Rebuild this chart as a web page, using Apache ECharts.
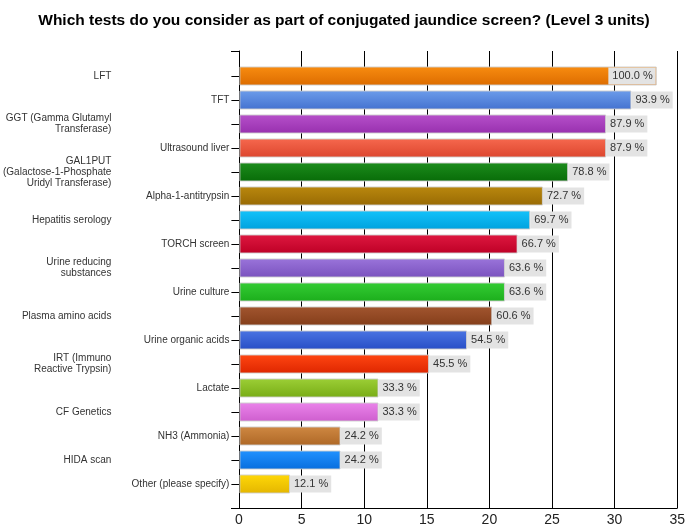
<!DOCTYPE html>
<html>
<head>
<meta charset="utf-8">
<title>Conjugated jaundice screen</title>
<script src="https://cdn.jsdelivr.net/npm/echarts@6/dist/echarts.min.js"></script>
<style>
  html, body { margin: 0; padding: 0; background: #fff; }
  #chart { width: 688px; height: 531px; }
</style>
</head>
<body>
<div id="chart"></div>
<script>
// Survey answers: number of Level 3 units choosing each test
const respondents = 33;
const categories = [
  'LFT',
  'TFT',
  'GGT (Gamma Glutamyl\nTransferase)',
  'Ultrasound liver',
  'GAL1PUT\n(Galactose-1-Phosphate\nUridyl Transferase)',
  'Alpha-1-antitrypsin',
  'Hepatitis serology',
  'TORCH screen',
  'Urine reducing\nsubstances',
  'Urine culture',
  'Plasma amino acids',
  'Urine organic acids',
  'IRT (Immuno\nReactive Trypsin)',
  'Lactate',
  'CF Genetics',
  'NH3 (Ammonia)',
  'HIDA scan',
  'Other (please specify)'
];
const counts = [33, 31, 29, 29, 26, 24, 23, 22, 21, 21, 20, 18, 15, 11, 11, 8, 8, 4];
const xTicks = [0, 5, 10, 15, 20, 25, 30, 35];

// top / bottom colour of each bar's gradient
const barColors = [
  ['#f88c10', '#dc6c00'],
  ['#6c9cea', '#4472d0'],
  ['#b650ca', '#9830ae'],
  ['#f6684e', '#dc462e'],
  ['#1c8c1c', '#086c08'],
  ['#ba880e', '#986a04'],
  ['#14c2fa', '#00a2de'],
  ['#de1840', '#be0026'],
  ['#9a74da', '#7a52be'],
  ['#34cc34', '#1cae1c'],
  ['#a2552f', '#843e1a'],
  ['#4a74e2', '#284ec6'],
  ['#ff4612', '#de2600'],
  ['#9ccf36', '#78ac16'],
  ['#ea84ea', '#ce5ece'],
  ['#cf8842', '#ae6826'],
  ['#2292ff', '#086ede'],
  ['#ffd808', '#e4b600']
];

const labelFont = 'Liberation Sans, Arial, sans-serif';

const barData = counts.map((v, i) => {
  const item = {
    value: v,
    itemStyle: {
      color: new echarts.graphic.LinearGradient(0, 0, 0, 1, [
        { offset: 0, color: barColors[i][0] },
        { offset: 1, color: barColors[i][1] }
      ])
    }
  };
  if (v === Math.max(...counts)) {
    item.label = { position: 'insideRight', distance: 1 };
  }
  return item;
});

const chart = echarts.init(document.getElementById('chart'), null, { renderer: 'canvas' });

chart.setOption({
  animation: false,
  backgroundColor: '#ffffff',
  title: {
    text: 'Which tests do you consider as part of conjugated jaundice screen? (Level 3 units)',
    left: 'center',
    top: 8,
    textStyle: {
      fontFamily: labelFont,
      fontSize: 15.5,
      fontWeight: 'bold',
      color: '#000'
    }
  },
  grid: [
    // frame: vertical grid lines, left axis and the value scale
    { left: 239, width: 443, top: 51, bottom: 23, containLabel: false },
    // bars
    { left: 239, width: 443, top: 64, bottom: 35, containLabel: false }
  ],
  xAxis: [
    {
      gridIndex: 0,
      type: 'value',
      min: xTicks[0],
      max: xTicks[xTicks.length - 1],
      interval: 5,
      axisLine: { show: true, lineStyle: { color: '#000', width: 1 } },
      axisTick: { show: false },
      splitLine: { show: true, lineStyle: { color: '#000', width: 1 } },
      axisLabel: {
        margin: 5,
        fontFamily: labelFont,
        fontSize: 14,
        color: '#222'
      }
    },
    {
      gridIndex: 1,
      type: 'value',
      min: xTicks[0],
      max: xTicks[xTicks.length - 1],
      show: false
    }
  ],
  yAxis: [
    {
      gridIndex: 0,
      type: 'value',
      min: 0,
      max: 1,
      interval: 1,
      axisLine: { show: true, lineStyle: { color: '#000', width: 1 } },
      axisTick: { show: true, length: 8, lineStyle: { color: '#000' } },
      axisLabel: { show: false },
      splitLine: { show: false }
    },
    {
      gridIndex: 1,
      type: 'category',
      inverse: true,
      data: categories,
      axisLine: { show: false },
      axisTick: {
        show: true,
        alignWithLabel: true,
        interval: 0,
        length: 8,
        lineStyle: { color: '#000' }
      },
      axisLabel: {
        interval: 0,
        margin: 10,
        formatter: (value, index) => {
          const tag = index % 2 === 0 ? 'far' : 'near';
          return value.split('\n').map(line => '{' + tag + '|' + line + '}').join('\n');
        },
        rich: {
          near: {
            fontFamily: labelFont,
            fontSize: 10,
            lineHeight: 11,
            color: '#333',
            align: 'right'
          },
          far: {
            fontFamily: labelFont,
            fontSize: 10,
            lineHeight: 11,
            color: '#333',
            align: 'right',
            padding: [0, 118, 0, 0]
          }
        }
      }
    }
  ],
  series: [
    {
      type: 'bar',
      xAxisIndex: 1,
      yAxisIndex: 1,
      data: barData,
      barWidth: 19,
      itemStyle: {
        borderColor: 'rgba(205,205,205,0.9)',
        borderWidth: 1
      },
      label: {
        show: true,
        position: 'right',
        distance: 0,
        formatter: p => (p.value / respondents * 100).toFixed(1) + ' %',
        fontFamily: labelFont,
        fontSize: 11,
        color: '#333',
        backgroundColor: '#e3e3e3',
        padding: [3, 3, 3, 4]
      },
      z: 3
    }
  ]
});
</script>
</body>
</html>
